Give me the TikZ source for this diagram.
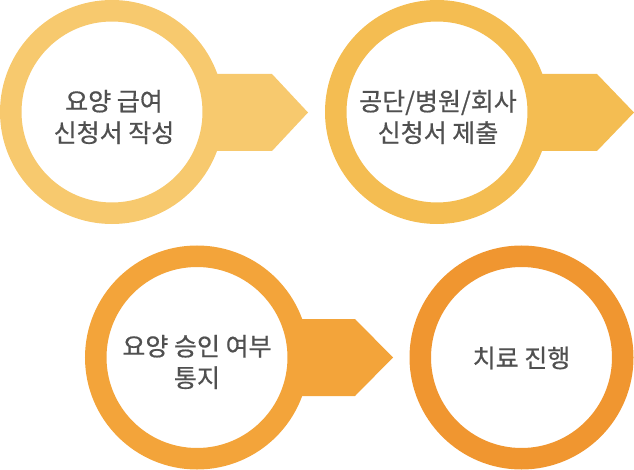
\documentclass[tikz,border=0pt]{standalone}
\usepackage{fontspec}
\newfontfamily\kr[FakeBold=0.6]{Noto Sans CJK KR}
\definecolor{cA}{RGB}{247,201,110}
\definecolor{cB}{RGB}{244,189,82}
\definecolor{cC}{RGB}{243,164,58}
\definecolor{cD}{RGB}{240,150,48}
\definecolor{txt}{RGB}{80,80,80}
\tikzset{
  ring/.style={circle, draw=#1, fill=white, line width=21.5pt, minimum size=202.5pt, inner sep=0pt},
  lbl/.style={font=\kr\fontsize{25}{31.5}\selectfont, text=txt, align=center, inner sep=0pt},
  tab/.style={fill=#1, draw=none}
}
\begin{document}
\begin{tikzpicture}[x=1pt,y=-1pt]
\useasboundingbox (0,0) rectangle (634,470);
% tabs
\fill[cA] (112,74) -- (272,74) -- (308,112.5) -- (272,151) -- (112,151) -- cycle;
\fill[cB] (437,74) -- (597,74) -- (634,112.5) -- (597,151) -- (437,151) -- cycle;
\fill[cC] (197,319) -- (355,319) -- (393,357.5) -- (355,396) -- (197,396) -- cycle;
% rings
\node[ring=cA] (c1) at (112,112) {};
\node[ring=cB] (c2) at (437,112) {};
\node[ring=cC] (c3) at (197,357.5) {};
\node[ring=cD] (c4) at (521.5,357.5) {};
% labels
\node[lbl] (l1) at (114,117) {요양 급여\\신청서 작성};
\node[lbl] (l2) at (438,117) {공단/병원/회사\\신청서 제출};
\node[lbl] (l3) at (197,362) {요양 승인 여부\\통지};
\node[lbl] (l4) at (521.5,358) {치료 진행};
\end{tikzpicture}
\end{document}
